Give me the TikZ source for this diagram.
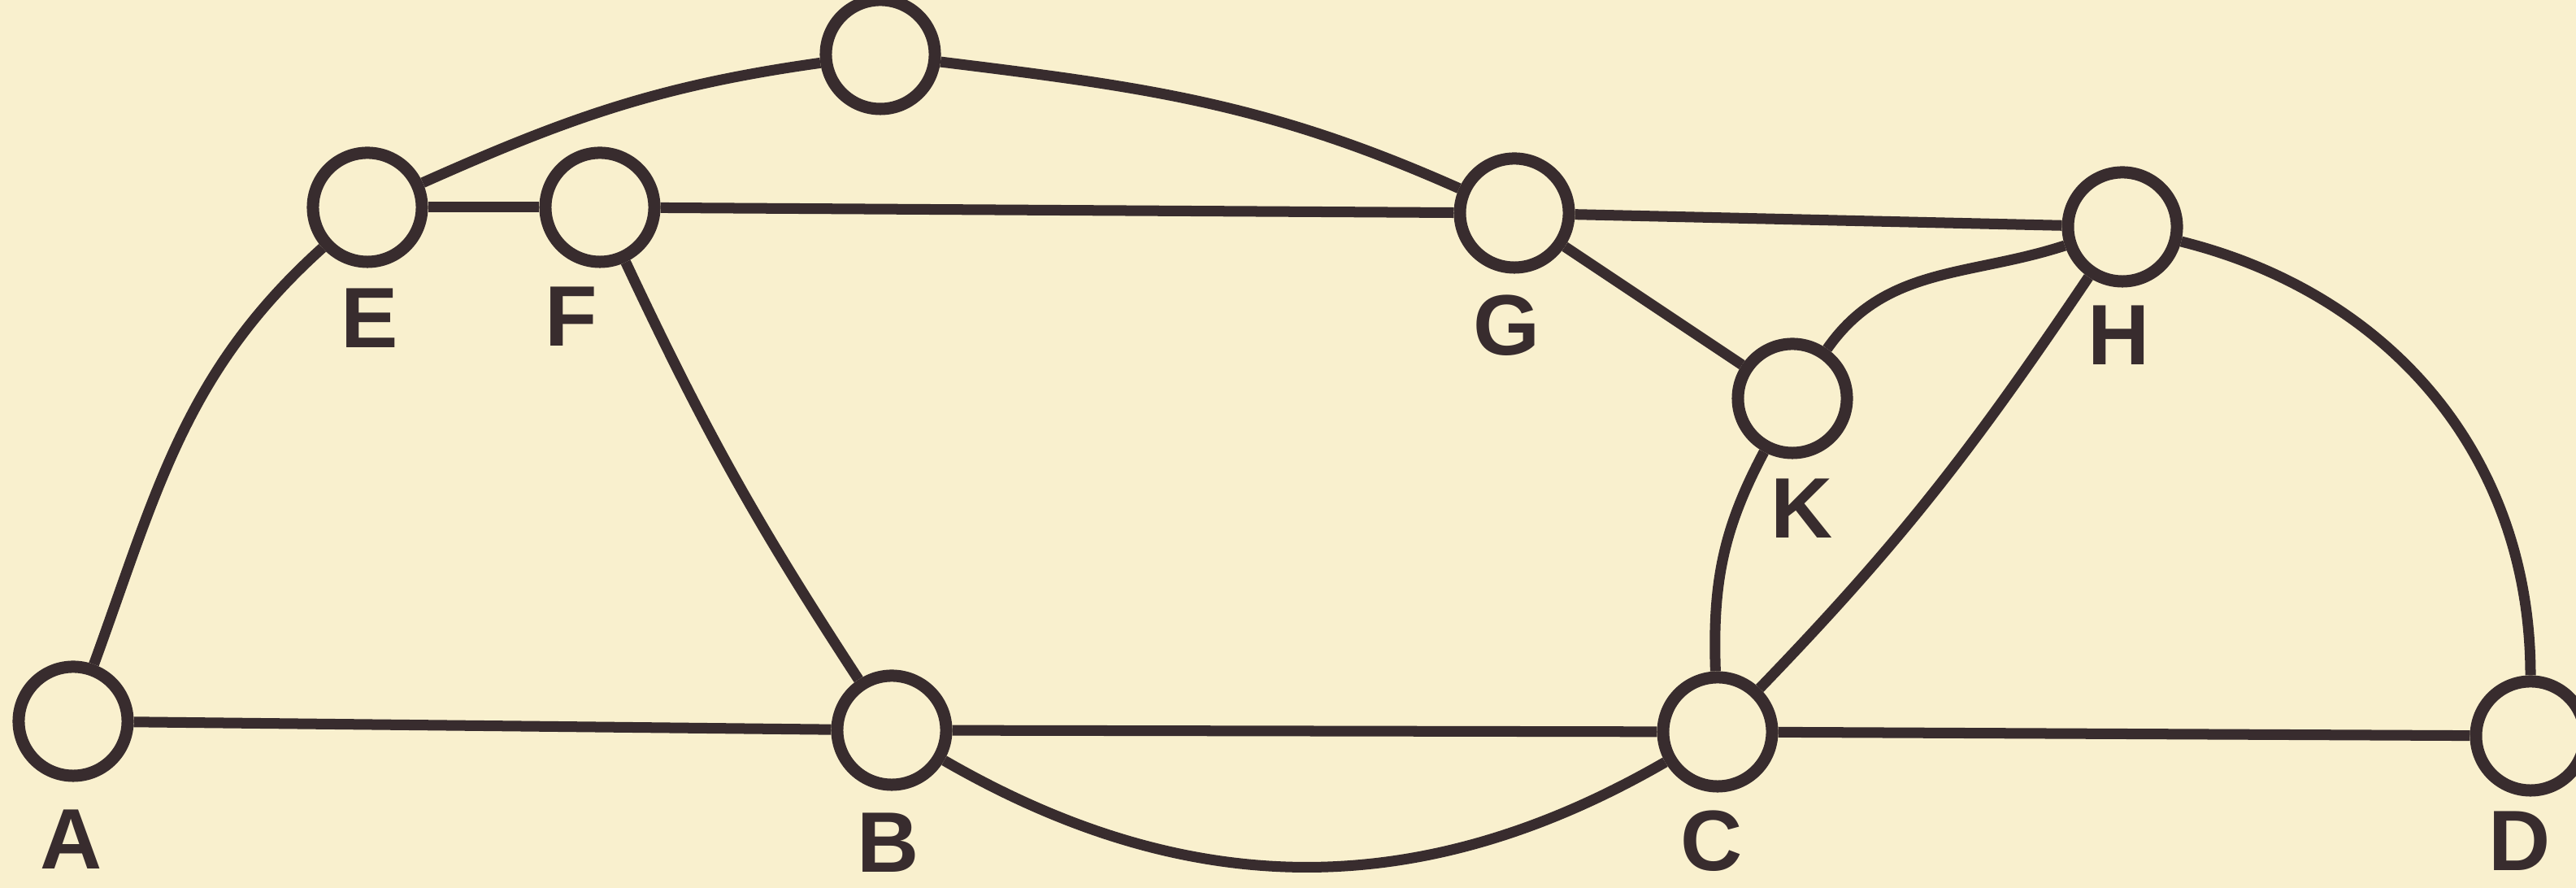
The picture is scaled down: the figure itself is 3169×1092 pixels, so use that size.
\documentclass[tikz,border=0pt]{standalone}
\usepackage{fontspec}
\setmainfont{Liberation Sans}
\definecolor{paper}{RGB}{249,240,206}
\definecolor{ink}{RGB}{56,44,46}
\begin{document}
\begin{tikzpicture}[x=0.01cm,y=0.01cm,
  vertex/.style={circle,draw=ink,fill=paper,line width=0.15cm,minimum size=1.34cm,inner sep=0pt},
  edge/.style={draw=ink,line width=0.13cm},
  lab/.style={text=ink,font=\fontsize{30}{36}\selectfont\bfseries,inner sep=0pt}]
\fill[paper] (0,0) rectangle (3169,1092);
\useasboundingbox (0,0) rectangle (3169,1092);
\clip (0,0) rectangle (3169,1092);
% vertices
\node[vertex] (A) at (90,205) {};
\node[vertex] (B) at (1097,194) {};
\node[vertex] (C) at (2113,192) {};
\node[vertex] (D) at (3113,187) {};
\node[vertex] (E) at (452,837) {};
\node[vertex] (F) at (738,837) {};
\node[vertex] (G) at (1863,830) {};
\node[vertex] (H) at (2611,813) {};
\node[vertex] (K) at (2205,602) {};
\node[vertex] (T) at (1083,1025) {};
% labels
\node[lab] (lA) at (88,60) {A};
\node[lab] (lB) at (1093,56) {B};
\node[lab] (lC) at (2106,58) {C};
\node[lab] (lD) at (3100,58) {D};
\node[lab] (lE) at (455,701) {E};
\node[lab] (lF) at (703,703) {F};
\node[lab] (lG) at (1854,692) {G};
\node[lab] (lH) at (2607,680) {H};
\node[lab] (lK) at (2217,467) {K};
% edges
\draw[edge] (A) -- (B);
\draw[edge] (B) -- (C);
\draw[edge] (C) -- (D);
\draw[edge] (B) to[out=-30,in=-150] (C);
\draw[edge] (A) to[out=70,in=-138] (E);
\draw[edge] (E) to (F);
\draw[edge] (E) to[out=24,in=188] (T);
\draw[edge] (T) to[out=-7,in=156] (G);
\draw[edge] (F) -- (G);
\draw[edge] (F) to[bend right=4] (B);
\draw[edge] (G) -- (H);
\draw[edge] (G) -- (K);
\draw[edge] (K) to[out=55,in=-162] (H);
\draw[edge] (K) to[out=-118,in=92] (C);
\draw[edge] (C) to[out=46,in=-124] (H);
\draw[edge] (H) to[out=-14,in=90] (D);
\end{tikzpicture}
\end{document}
